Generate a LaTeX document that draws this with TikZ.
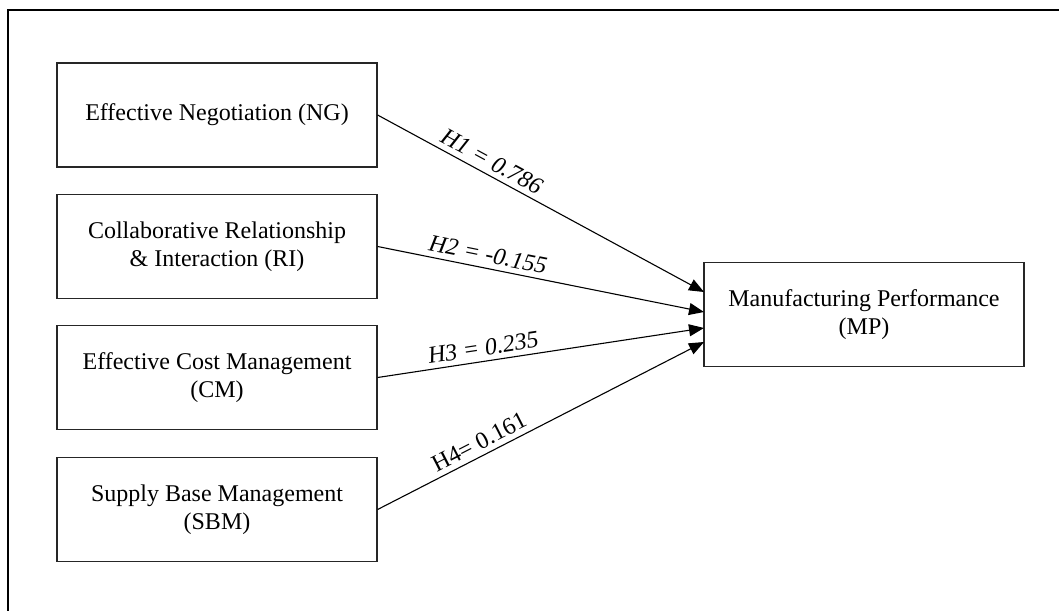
\documentclass[tikz,border=0pt]{standalone}
\usepackage{fontspec}
\setmainfont{Liberation Serif}
\usetikzlibrary{arrows.meta}
\begin{document}
\begin{tikzpicture}[x=1pt,y=-1pt,
  box/.style={draw=black!85, line width=1.2pt, minimum width=320pt, minimum height=104pt, align=center, inner sep=0pt, font=\fontsize{24}{28}\selectfont},
  link/.style={line width=1.1pt, -{Triangle[length=15pt,width=12pt]}},
  lab/.style={sloped, above, pos=0.33, font=\fontsize{24}{28}\selectfont\itshape, inner sep=5pt},
  labup/.style={lab, font=\fontsize{24}{28}\selectfont\upshape},
  frame/.style={line width=2pt, black}]
\useasboundingbox (0,0) rectangle (1059,610);
\coordinate (fb) at (8,612);
\coordinate (fc) at (8,10);
\coordinate (fr) at (1061,10);
\draw[frame] (fb) -- (fc) -- (fr);

\node[box] (NG) at (217,115) {Effective Negotiation (NG)};
\node[box] (RI) at (217,246.5) {Collaborative Relationship\\\& Interaction (RI)};
\node[box] (CM) at (217,377.5) {Effective Cost Management\\(CM)};
\node[box] (SBM) at (217,509.5) {Supply Base Management\\(SBM)};
\node[box] (MP) at (864,314.5) {Manufacturing Performance\\(MP)};

\coordinate (t1) at (704,292);
\coordinate (t2) at (704,312);
\coordinate (t3) at (704,328);
\coordinate (t4) at (704,342);

\draw[link] (NG.east) -- node[lab] {H1 = 0.786} (t1);
\draw[link] (RI.east) -- node[lab] {H2 = -0.155} (t2);
\draw[link] (CM.east) -- node[lab] {H3 = 0.235} (t3);
\draw[link] (SBM.east) -- node[labup] {H4= 0.161} (t4);
\end{tikzpicture}
\end{document}
